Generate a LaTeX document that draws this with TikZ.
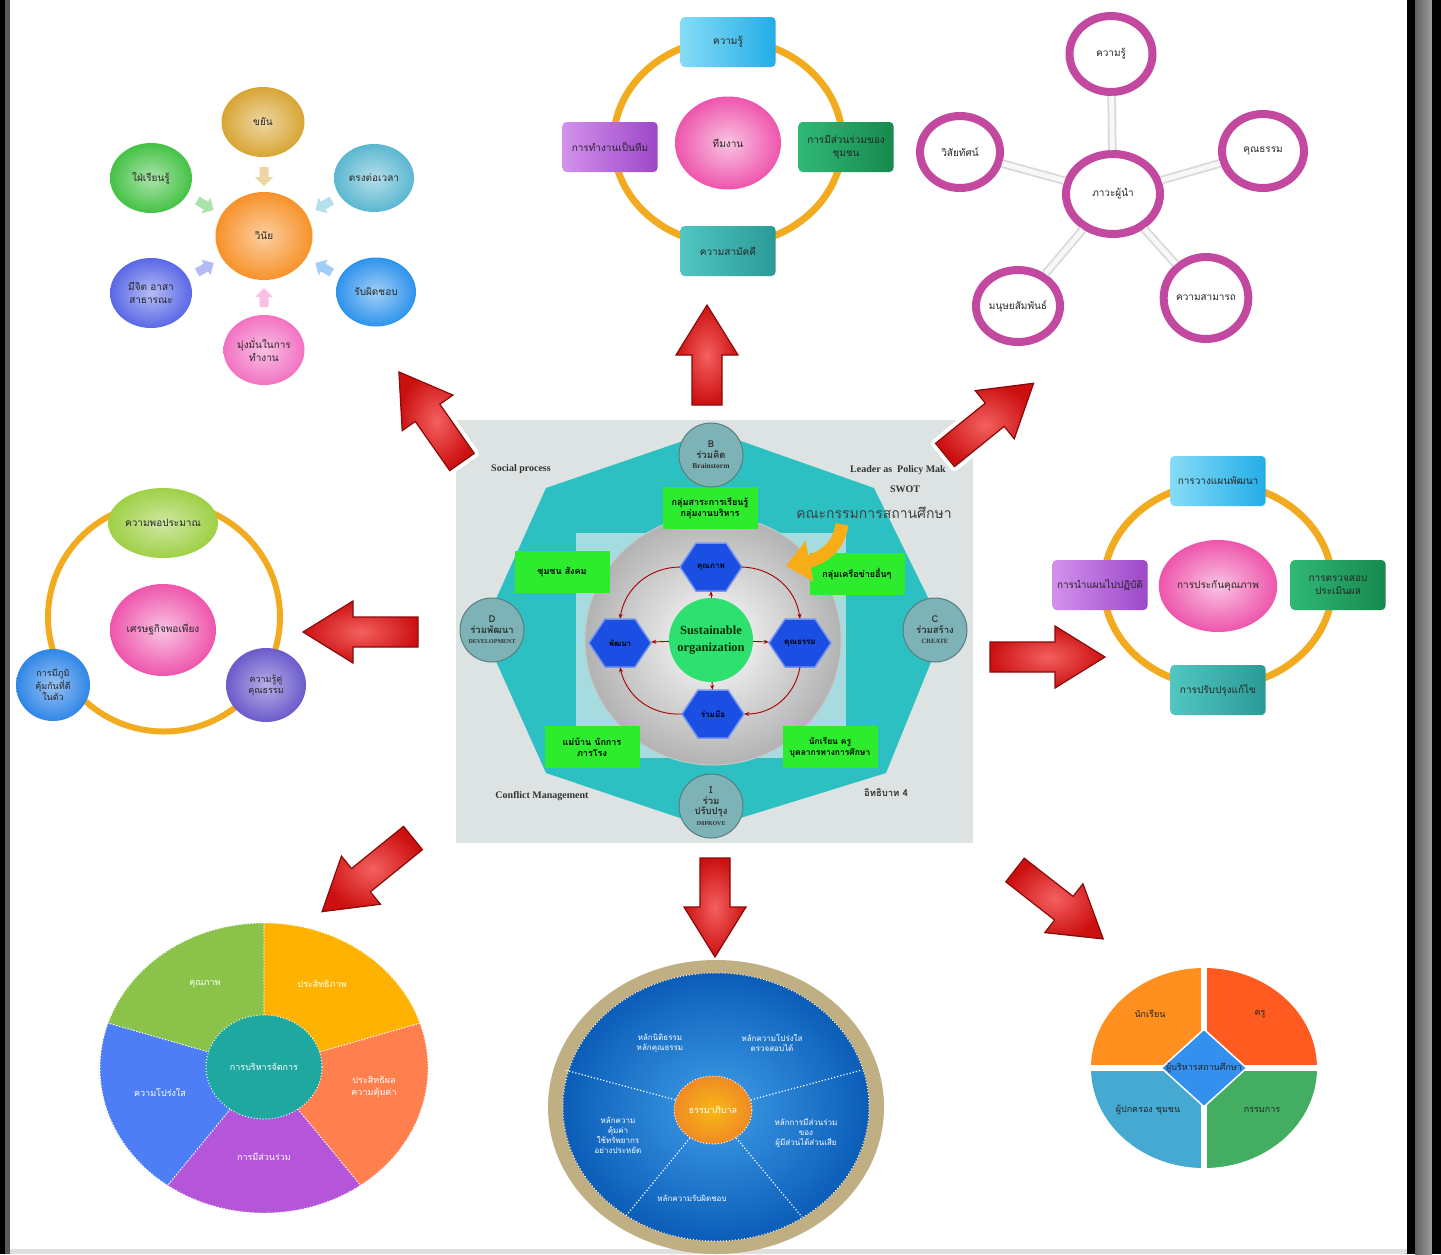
\documentclass[tikz,border=0pt]{standalone}
\usepackage{fontspec}
\setmainfont{Liberation Serif}
\newfontfamily\thaifont[Script=Thai]{Loma}
\usetikzlibrary{shapes.geometric,arrows.meta}

% palette
\definecolor{panelgray}{HTML}{DDE3E3}
\definecolor{octteal}{HTML}{2CC0C3}
\definecolor{innerteal}{HTML}{A6DCE0}
\definecolor{hexblue}{HTML}{1B4FE3}
\definecolor{boxgreen}{HTML}{2DEB2D}
\definecolor{coregreen}{HTML}{2EE070}
\definecolor{stagegray}{HTML}{7DB3B6}
\definecolor{ringgold}{HTML}{F2AB1E}
\definecolor{rosepink}{HTML}{EE55AC}
\definecolor{petalpink}{HTML}{C3489F}
\definecolor{swoosh}{HTML}{F7AE16}
\definecolor{arrowdark}{HTML}{8A0A0A}
\definecolor{arrowin}{HTML}{F46060}
\definecolor{arrowout}{HTML}{CC1010}
\definecolor{tlorange}{HTML}{F7922A}
\definecolor{tlgold}{HTML}{D8A534}
\definecolor{tlteal}{HTML}{5BB7D0}
\definecolor{tlblue}{HTML}{2E93EC}
\definecolor{tlpink}{HTML}{F272C2}
\definecolor{tlviolet}{HTML}{5A68E6}
\definecolor{tlgreen}{HTML}{44C244}
\definecolor{lcgreen}{HTML}{9FD046}
\definecolor{lcblue}{HTML}{2F86E6}
\definecolor{lcviolet}{HTML}{6B5BCB}
\definecolor{pieGreen}{HTML}{8BC34A}
\definecolor{pieOrange}{HTML}{FFB300}
\definecolor{pieCoral}{HTML}{FF7F4F}
\definecolor{piePurple}{HTML}{B556DA}
\definecolor{pieBlue}{HTML}{4D7EF5}
\definecolor{pieTeal}{HTML}{1FA89F}
\definecolor{tanring}{HTML}{BFAF83}
\definecolor{deepblue}{HTML}{0B5DB8}
\definecolor{lightblue}{HTML}{409EE8}
\definecolor{coreorange}{HTML}{F08A24}
\definecolor{qOrange}{HTML}{FF8F1F}
\definecolor{qRed}{HTML}{FF5A1F}
\definecolor{qSky}{HTML}{45A9D2}
\definecolor{qGreen}{HTML}{43AE62}
\definecolor{qBlue}{HTML}{3390EE}
\definecolor{cyanL}{HTML}{86DCF6}
\definecolor{cyanR}{HTML}{23ADE6}
\definecolor{violL}{HTML}{D391EC}
\definecolor{violR}{HTML}{9C47C9}
\definecolor{grnL}{HTML}{30B877}
\definecolor{grnR}{HTML}{17894D}
\definecolor{tealL}{HTML}{52C6C2}
\definecolor{tealR}{HTML}{2A9A96}

\tikzset{
  th/.style={font=\thaifont\fontsize{10}{12.5}\selectfont, align=center, text=black!85},
  thw/.style={font=\thaifont\fontsize{9}{11.5}\selectfont, align=center, text=white},
  thsmall/.style={font=\thaifont\bfseries\fontsize{9}{11}\selectfont, align=center, text=black},
  latin/.style={font=\bfseries\fontsize{10}{12}\selectfont, text=black!80},
  orb/.style 2 args={ellipse, minimum width=#1, minimum height=#2, inner sep=1pt},
  tbox/.style={rectangle, rounded corners=4pt, minimum width=95pt, minimum height=50pt, inner sep=2pt, th},
  goldring/.style={ellipse, draw=ringgold, line width=7pt},
  petal/.style={ellipse, draw=petalpink, line width=8pt, fill=white, inner sep=0pt, th},
  web/.style={draw=black!15, double=white!94!gray, double distance=5pt, line width=1.8pt},
  greenbox/.style={rectangle, fill=boxgreen, minimum width=95pt, minimum height=42pt, inner sep=2pt, thsmall},
  stage/.style={circle, fill=stagegray, draw=stagegray!70!black, line width=1pt, minimum size=64pt, inner sep=0pt,
                font=\thaifont\bfseries\fontsize{9.5}{10.5}\selectfont, align=center, text=black!80},
  hexshape/.style={fill=hexblue, draw=hexblue!60!white, line width=1.5pt},
  hexlabel/.style={rectangle, minimum width=62pt, minimum height=48pt, inner sep=0pt,
                   font=\thaifont\bfseries\fontsize{8}{10}\selectfont, text=black},
  redarc/.style={draw=red!65!black, line width=0.9pt, -{Stealth[length=5pt,width=4pt]}},
  arrowbody/.style={preaction={draw=white, line width=9pt, line join=round},
                    draw=arrowdark, line width=1.2pt, inner color=arrowin, outer color=arrowout},
}

% large red block arrow: tail point, direction, length
\newcommand\bigarrow[4]{%
  \path[arrowbody, shift={(#1,#2)}, rotate=#3]
    (0,-15) -- (#4-50,-15) -- (#4-50,-31) -- (#4,0) -- (#4-50,31) -- (#4-50,15) -- (0,15) -- cycle;}
% small pale arrow: centre, direction, colour
\newcommand\tinyarrow[4]{%
  \fill[#4, shift={(#1,#2)}, rotate=#3]
    (-9,-4.5) -- (1,-4.5) -- (1,-9) -- (10,0) -- (1,9) -- (1,4.5) -- (-9,4.5) -- cycle;}
% flat-topped hexagon around a centre
\newcommand\hexat[2]{%
  \path[hexshape] (#1,#2) ++(-31,0) -- ++(16,-24) -- ++(30,0) -- ++(16,24) -- ++(-16,24) -- ++(-30,0) -- cycle;}

\begin{document}
\begin{tikzpicture}[x=1pt,y=-1pt]
\useasboundingbox (0,0) rectangle (1441,1254);
\fill[white] (0,0) rectangle (1441,1254);

% ---------- frame strips ----------
\fill[black] (0,0) rectangle (5,1254);
\fill[black!65] (5,0) rectangle (10,1254);
\fill[black!12] (10,1249) rectangle (1407,1254);
\fill[black] (1407,0) rectangle (1415,1254);
\fill[left color=black!62, right color=black!38] (1415,0) rectangle (1432,1254);
\fill[black] (1432,0) rectangle (1441,1254);

% ---------- central panel ----------
\fill[panelgray] (456,420) rectangle (973,843);
\fill[octteal] (546,488) -- (686,440) -- (738,440) -- (874,488) -- (944,630) -- (886,773)
      -- (734,820) -- (686,820) -- (546,773) -- (482,630) -- cycle;
\fill[innerteal] (576,533) rectangle (846,758);
\node[ellipse, minimum width=256pt, minimum height=250pt, inner color=white, outer color=black!30,
      draw=black!22, line width=1pt] (sphere) at (713,640) {};

\hexat{711}{567}
\hexat{620}{643}
\hexat{800}{643}
\hexat{713}{714}
\node[hexlabel] (hT) at (711,567) {คุณภาพ};
\node[hexlabel] (hL) at (620,643) {พัฒนา};
\node[hexlabel] (hR) at (800,643) {คุณธรรม};
\node[hexlabel] (hB) at (713,714) {ร่วมมือ};

\node[circle, fill=coregreen, minimum size=84pt, inner sep=0pt, align=center,
      font=\bfseries\fontsize{12.5}{17}\selectfont, text=green!20!black] (gc) at (711,640)
      {Sustainable\\organization};

\draw[redarc] (hT.east) to[bend left=40] (hR.north);
\draw[redarc] (hR.south) to[bend left=40] (hB.east);
\draw[redarc] (hB.west) to[bend left=40] (hL.south);
\draw[redarc] (hT.west) to[bend right=40] (hL.north);
\draw[redarc] (gc) -- (hT);
\draw[redarc] (gc) -- (hL);
\draw[redarc] (gc) -- (hR);
\draw[redarc] (gc) -- (hB);

\node[greenbox] (gTop) at (710,508) {กลุ่มสาระการเรียนรู้\\กลุ่มงานบริหาร};
\node[greenbox] (gLeft) at (562,572) {ชุมชน สังคม};
\node[greenbox] (gRight) at (857,574) {กลุ่มเครือข่ายอื่นๆ};
\node[greenbox] (gBL) at (592,747) {แม่บ้าน นักการ\\ภารโรง};
\node[greenbox, font=\thaifont\bfseries\fontsize{8.5}{11}\selectfont] (gBR) at (830,747) {นักเรียน ครู\\บุคลากรทางการศึกษา};

\node[stage] (sB) at (711,455) {B\\ร่วมคิด\\{\rmfamily\fontsize{7.5}{9}\selectfont Brainstorm}};
\node[stage] (sD) at (492,630) {D\\ร่วมพัฒนา\\{\rmfamily\fontsize{6}{7.5}\selectfont DEVELOPMENT}};
\node[stage] (sC) at (935,630) {C\\ร่วมสร้าง\\{\rmfamily\fontsize{6.5}{8}\selectfont CREATE}};
\node[stage] (sI) at (711,806) {I\\ร่วม\\ปรับปรุง\\{\rmfamily\fontsize{6}{7.5}\selectfont IMPROVE}};

\node[latin] (tSocial) at (521,469) {Social process};
\node[latin] (tLeader) at (898,470) {Leader as\ \ Policy Mak};
\node[latin] (tSwot) at (905,489) {SWOT};
\node[font=\thaifont\fontsize{14}{16}\selectfont, text=black!75] (tBoard) at (874,513) {คณะกรรมการสถานศึกษา};
\node[latin] (tConflict) at (542,796) {Conflict Management};
\node[font=\thaifont\bfseries\fontsize{9.5}{11}\selectfont, text=black!80] (tIddhi) at (886,793) {อิทธิบาท 4};

\draw[swoosh, line width=13pt, -{Triangle[length=24pt,width=40pt]}]
  (tBoard.south) ++(-32,2) .. controls +(-4,30) and +(25,-5) .. (786,566);

% ---------- red block arrows ----------
\bigarrow{707}{405}{90}{100}
\bigarrow{462}{462}{125}{110}
\bigarrow{945}{455}{39}{114}
\bigarrow{418}{632}{180}{115}
\bigarrow{990}{657}{0}{115}
\bigarrow{413}{838}{219}{117}
\bigarrow{715}{858}{-90}{99}
\bigarrow{1015}{870}{-38}{112}

% ---------- top-left cluster ----------
\node[orb={97pt}{88pt}, inner color=tlorange!45!white, outer color=tlorange, th] (vCore) at (264,236) {วินัย};
\node[orb={83pt}{70pt}, inner color=tlgold!45!white, outer color=tlgold, th] (vTop) at (263,122) {ขยัน};
\node[orb={80pt}{68pt}, inner color=tlteal!45!white, outer color=tlteal, th] (vUR) at (374,178) {ตรงต่อเวลา};
\node[orb={80pt}{69pt}, inner color=tlblue!45!white, outer color=tlblue, th] (vLR) at (376,292) {รับผิดชอบ};
\node[orb={81pt}{70pt}, inner color=tlpink!45!white, outer color=tlpink, th] (vBot) at (264,350) {มุ่งมั่นในการ\\ทำงาน};
\node[orb={82pt}{70pt}, inner color=tlviolet!45!white, outer color=tlviolet, th] (vLL) at (151,293) {มีจิต อาสา\\สาธารณะ};
\node[orb={82pt}{70pt}, inner color=tlgreen!45!white, outer color=tlgreen, th] (vUL) at (151,178) {ใฝ่เรียนรู้};
\tinyarrow{264}{176}{-90}{tlgold!45!white}
\tinyarrow{324}{205}{210}{tlteal!45!white}
\tinyarrow{324}{268}{150}{tlblue!45!white}
\tinyarrow{264}{298}{90}{tlpink!45!white}
\tinyarrow{205}{268}{30}{tlviolet!45!white}
\tinyarrow{205}{205}{-30}{tlgreen!45!white}

% ---------- top-middle cluster ----------
\node[goldring, minimum width=229pt, minimum height=205pt] (tmRing) at (728,142) {};
\node[orb={106pt}{93pt}, inner color=rosepink!35!white, outer color=rosepink, th] (tmCore) at (728,143) {ทีมงาน};
\node[tbox, left color=cyanL, right color=cyanR] (tmTop) at (728,42) {ความรู้};
\node[tbox, left color=violL, right color=violR] (tmLeft) at (610,147) {การทำงานเป็นทีม};
\node[tbox, left color=grnL, right color=grnR] (tmRight) at (846,147) {การมีส่วนร่วมของ\\ชุมชน};
\node[tbox, left color=tealL, right color=tealR] (tmBot) at (728,251) {ความสามัคคี};

% ---------- top-right flower ----------
\node[petal, minimum width=94pt, minimum height=80pt] (flCore) at (1113,194) {ภาวะผู้นำ};
\node[petal, minimum width=83pt, minimum height=76pt] (flTop) at (1111,54) {ความรู้};
\node[petal, minimum width=82pt, minimum height=74pt] (flRight) at (1263,151) {คุณธรรม};
\node[petal, minimum width=84pt, minimum height=82pt] (flLR) at (1206,298) {ความสามารถ};
\node[petal, minimum width=84pt, minimum height=72pt] (flLL) at (1018,306) {มนุษยสัมพันธ์};
\node[petal, minimum width=80pt, minimum height=72pt] (flLeft) at (960,152) {วิสัยทัศน์};
\draw[web] (flCore) -- (flTop);
\draw[web] (flCore) -- (flRight);
\draw[web] (flCore) -- (flLR);
\draw[web] (flCore) -- (flLL);
\draw[web] (flCore) -- (flLeft);

% ---------- right cluster ----------
\node[goldring, minimum width=229pt, minimum height=203pt] (rcRing) at (1218,585) {};
\node[orb={108pt}{92pt}, inner color=rosepink!35!white, outer color=rosepink, th] (rcCore) at (1218,586) {การประกันคุณภาพ};
\node[tbox, left color=cyanL, right color=cyanR] (rcTop) at (1218,481) {การวางแผนพัฒนา};
\node[tbox, left color=violL, right color=violR] (rcLeft) at (1100,585) {การนำแผนไปปฏิบัติ};
\node[tbox, left color=grnL, right color=grnR] (rcRight) at (1338,585) {การตรวจสอบ\\ประเมินผล};
\node[tbox, left color=tealL, right color=tealR] (rcBot) at (1218,690) {การปรับปรุงแก้ไข};

% ---------- left cluster ----------
\node[goldring, line width=6pt, minimum width=232pt, minimum height=229pt] (lcRing) at (164,617) {};
\node[orb={106pt}{92pt}, inner color=rosepink!35!white, outer color=rosepink, th] (lcCore) at (163,630) {เศรษฐกิจพอเพียง};
\node[orb={80pt}{70pt}, inner color=lcgreen!50!white, outer color=lcgreen, th] (lcTop) at (163,523) {ความพอประมาณ};
\node[orb={74pt}{72pt}, inner color=lcblue!50!white, outer color=lcblue, th, font=\thaifont\fontsize{9}{11}\selectfont] (lcLL) at (53,685) {การมีภูมิ\\คุ้มกันที่ดี\\ในตัว};
\node[orb={80pt}{74pt}, inner color=lcviolet!50!white, outer color=lcviolet, th, font=\thaifont\fontsize{9}{11}\selectfont] (lcLR) at (266,685) {ความรู้คู่\\คุณธรรม};

% ---------- bottom-left pie ----------
\begin{scope}[shift={(264,1068)}]
  \foreach \a/\b/\c in {90/162/pieGreen, 18/90/pieOrange, -54/18/pieCoral, -126/-54/piePurple, -198/-126/pieBlue}
    \filldraw[fill=\c, draw=white, dotted, line width=1pt]
      (0,0) -- (\a:164pt and 145pt) arc[start angle=\a, end angle=\b, x radius=164pt, y radius=145pt] -- cycle;
\end{scope}
\node[ellipse, fill=pieTeal, draw=white, dotted, line width=1pt, minimum width=116pt, minimum height=104pt, thw] (pbCore) at (264,1067) {การบริหารจัดการ};
\node[thw] (pbGreen) at (205,984) {คุณภาพ};
\node[thw] (pbOrange) at (322,984) {ประสิทธิภาพ};
\node[thw] (pbCoral) at (374,1087) {ประสิทธิผล\\ความคุ้มค่า};
\node[thw] (pbPurple) at (264,1157) {การมีส่วนร่วม};
\node[thw] (pbBlue) at (160,1092) {ความโปร่งใส};

% ---------- bottom-middle wheel ----------
\fill[tanring] (716,1107) ellipse [x radius=168pt, y radius=147pt];
\filldraw[inner color=lightblue, outer color=deepblue, draw=white, dotted, line width=1pt]
  (716,1107) ellipse [x radius=153pt, y radius=134pt];
\node[ellipse, inner color=coreorange!60!yellow, outer color=coreorange, draw=white, dotted, line width=1pt,
      minimum width=76pt, minimum height=68pt, thw] (bmCore) at (713,1110) {ธรรมาภิบาล};
\coordinate (bmA) at (565,1070);
\coordinate (bmB) at (862,1070);
\coordinate (bmC) at (625,1217);
\coordinate (bmD) at (802,1217);
\draw[white, dotted, line width=1.2pt] (bmCore) -- (bmA);
\draw[white, dotted, line width=1.2pt] (bmCore) -- (bmB);
\draw[white, dotted, line width=1.2pt] (bmCore) -- (bmC);
\draw[white, dotted, line width=1.2pt] (bmCore) -- (bmD);
\node[thw, font=\thaifont\fontsize{8}{10}\selectfont] (bm1) at (660,1043) {หลักนิติธรรม\\หลักคุณธรรม};
\node[thw, font=\thaifont\fontsize{8}{10}\selectfont] (bm2) at (772,1043) {หลักความโปร่งใส\\ตรวจสอบได้};
\node[thw, font=\thaifont\fontsize{8}{10}\selectfont] (bm3) at (618,1135) {หลักความ\\คุ้มค่า\\ใช้ทรัพยากร\\อย่างประหยัด};
\node[thw, font=\thaifont\fontsize{8}{10}\selectfont] (bm4) at (806,1133) {หลักการมีส่วนร่วม\\ของ\\ผู้มีส่วนได้ส่วนเสีย};
\node[thw, font=\thaifont\fontsize{8}{10}\selectfont] (bm5) at (692,1198) {หลักความรับผิดชอบ};

% ---------- bottom-right quadrants ----------
\begin{scope}[shift={(1204,1068)}]
  \foreach \a/\c in {90/qOrange, 0/qRed, 180/qSky, 270/qGreen}
    \fill[\c] (0,0) -- (\a:113pt and 100pt) arc[start angle=\a, end angle=\a+90, x radius=113pt, y radius=100pt] -- cycle;
\end{scope}
\draw[white, line width=6pt] (1204,964) -- (1204,1172);
\draw[white, line width=6pt] (1087,1068) -- (1321,1068);
\node[diamond, fill=qBlue, draw=white, line width=1.5pt, minimum width=86pt, minimum height=78pt, inner sep=0pt] (qCore) at (1204,1068) {};
\node[th, font=\thaifont\fontsize{9}{11}\selectfont] (qCoreText) at (1204,1068) {ผู้บริหารสถานศึกษา};
\node[th, font=\thaifont\fontsize{9}{11}\selectfont] (qTL) at (1150,1014) {นักเรียน};
\node[th, font=\thaifont\fontsize{9}{11}\selectfont] (qTR) at (1260,1014) {ครู};
\node[th, font=\thaifont\fontsize{9}{11}\selectfont] (qBL) at (1148,1110) {ผู้ปกครอง ชุมชน};
\node[th, font=\thaifont\fontsize{9}{11}\selectfont] (qBR) at (1262,1110) {กรรมการ};

\end{tikzpicture}
\end{document}
